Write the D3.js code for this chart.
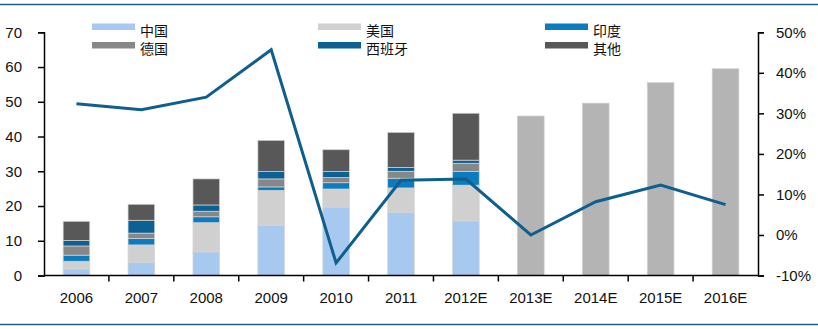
<!DOCTYPE html>
<html><head><meta charset="utf-8">
<script src="https://cdn.jsdelivr.net/npm/d3@7"></script>
<style>body{margin:0;background:#fff}svg{display:block}</style>
</head><body>
<svg id="c" width="818" height="329"></svg>
<script>
const years = ["2006","2007","2008","2009","2010","2011","2012E","2013E","2014E","2015E","2016E"];
const seriesNames = ["中国","美国","印度","德国","西班牙","其他"];
const china   = [1.9, 3.8, 6.8, 14.5, 19.7, 18.2, 15.7];
const usa     = [2.2, 5.0, 8.4, 10.0, 5.2, 7.0, 10.3];
const india   = [1.75, 1.9, 1.7, 1.0, 1.8, 2.8, 3.9];
const germany = [2.65, 1.5, 1.6, 2.3, 1.5, 2.0, 2.4];
const spain   = [1.6, 3.7, 1.8, 2.1, 1.7, 1.1, 0.9];
const others  = [5.5, 4.6, 7.5, 9.0, 6.3, 10.1, 13.5];
const forecastTotal = [45.9, 49.6, 55.5, 59.5];
const growth = [32.4, 30.9, 34.0, 45.7, -6.9, 13.5, 13.8, 0.0, 8.2, 12.3, 7.5];
const leftTicks = [0,10,20,30,40,50,60,70];
const rightTicks = [-10,0,10,20,30,40,50];
const colors = ["#a7c9ef","#d0d0d0","#0a7cbf","#878787","#0b6094","#585858"];
const forecastColor = "#b4b4b4";
const lineColor = "#0e5f8e";

const svg = d3.select("#c");
const L = 44, R = 758, T = 32.3, B = 275.5;
const x = d3.scaleBand().domain(years).range([L, R]).paddingInner(0.59).paddingOuter(0.295);
const xb = d3.scaleBand().domain(years).range([L, R]);
const y = d3.scaleLinear().domain([0,70]).range([B, T]);
const y2 = d3.scaleLinear().domain([-10,50]).range([B, T]);

// frame lines
svg.append("line").attr("x1",0).attr("x2",818).attr("y1",4.5).attr("y2",4.5).attr("stroke","#1c5e8c").attr("stroke-width",1.5);
svg.append("line").attr("x1",0).attr("x2",818).attr("y1",324.5).attr("y2",324.5).attr("stroke","#1c5e8c").attr("stroke-width",1.5);

// stacked bars
const actualYears = years.slice(0, china.length);
const rows = actualYears.map((yr,i)=>({year:yr, s0:china[i], s1:usa[i], s2:india[i], s3:germany[i], s4:spain[i], s5:others[i]}));
const stack = d3.stack().keys(["s0","s1","s2","s3","s4","s5"])(rows);
stack.forEach((layer,k)=>{
  svg.append("g").selectAll("rect").data(layer).join("rect")
    .attr("x", d=>x(d.data.year)).attr("width", x.bandwidth())
    .attr("y", d=>y(d[1])).attr("height", d=>y(d[0])-y(d[1]))
    .attr("fill", colors[k]).attr("stroke","#d4d4d4").attr("stroke-width",0.7);
});
const fYears = years.slice(china.length);
svg.append("g").selectAll("rect").data(forecastTotal).join("rect")
  .attr("x",(d,i)=>x(fYears[i])).attr("width",x.bandwidth())
  .attr("y",d=>y(d)).attr("height",d=>y(0)-y(d))
  .attr("fill",forecastColor).attr("stroke","#cccccc").attr("stroke-width",0.7);

// axes
const fontFam = "'Liberation Sans', Arial, sans-serif";
const gl = svg.append("g").attr("transform",`translate(${L},0)`)
  .call(d3.axisLeft(y).tickValues(leftTicks).tickSize(6).tickPadding(16));
const gr = svg.append("g").attr("transform",`translate(${R},0)`)
  .call(d3.axisRight(y2).tickValues(rightTicks).tickSize(6).tickPadding(12).tickFormat(d=>d+"%"));
const gx = svg.append("g").attr("transform",`translate(0,${B})`)
  .call(d3.axisBottom(xb).tickSize(0).tickPadding(17));
[gl,gr,gx].forEach(g=>{
  g.selectAll("path.domain").attr("stroke","#000").attr("stroke-width",1.5);
  g.selectAll(".tick line").attr("stroke","#000").attr("stroke-width",1.5);
  g.selectAll("text").attr("font-family",fontFam).attr("font-size",15).attr("fill","#111");
});
gx.select("path.domain").attr("d",`M${L},0H${R}`);
// x tick marks at band boundaries
svg.append("g").selectAll("line").data(years.slice(1)).join("line")
  .attr("x1",d=>xb(d)).attr("x2",d=>xb(d)).attr("y1",B).attr("y2",B+6)
  .attr("stroke","#000").attr("stroke-width",1.5);

// growth line
const line = d3.line().x((d,i)=>xb(years[i])+xb.bandwidth()/2).y(d=>y2(d));
svg.append("path").datum(growth).attr("d",line).attr("fill","none")
  .attr("stroke",lineColor).attr("stroke-width",3).attr("stroke-linejoin","miter");

// legend
const legX = [92, 318, 545], legY = [23.5, 42];
seriesNames.forEach((n,i)=>{
  const col = i%3, row = Math.floor(i/3);
  const g = svg.append("g").attr("transform",`translate(${legX[col]},${legY[row]})`);
  g.append("rect").attr("width",43).attr("height",6.5).attr("fill",colors[i]);
  g.append("text").attr("x",48).attr("y",12).attr("font-size",14)
    .attr("font-family","'Noto Sans CJK SC', sans-serif").attr("fill","#111").text(n);
});
</script>
</body></html>
